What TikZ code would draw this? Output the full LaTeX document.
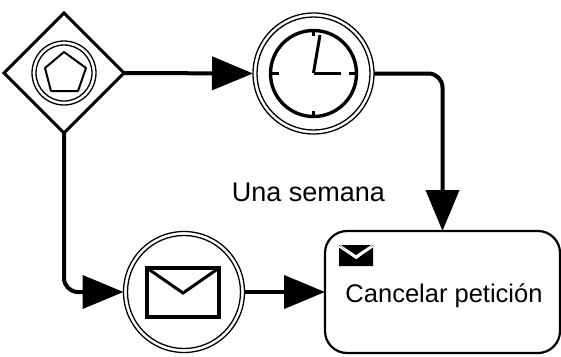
\documentclass[tikz,border=0pt]{standalone}
\usepackage{fontspec}
\setmainfont{Liberation Sans}
\usetikzlibrary{shapes.geometric,arrows.meta}
\tikzset{
  x=1pt,y=-1pt,
  flow/.style={line width=4pt,rounded corners=14pt,-{Triangle[length=41pt,width=33pt,sep=0pt]}},
  gatebox/.style={diamond,draw,line width=3pt,minimum width=120pt,minimum height=120pt,aspect=1,inner sep=0pt,outer sep=0pt},
  eventring/.style={circle,draw,line width=1.3pt,minimum size=121pt,inner sep=0pt,outer sep=0pt},
  innerring/.style={circle,draw,line width=1.3pt,minimum size=#1,inner sep=0pt,outer sep=0pt},
  taskbox/.style={draw,line width=2.2pt,rounded corners=22pt,minimum width=235pt,minimum height=122pt,inner sep=0pt,outer sep=0pt,anchor=center},
  labeltext/.style={font=\fontsize{25.5}{30}\selectfont,inner sep=0pt},
  symbolline/.style={line width=2pt,line join=round},
  handline/.style={line width=3pt}
}
\begin{document}
\begin{tikzpicture}
\useasboundingbox (0,0) rectangle (561,356);
% nodes
\node[gatebox] (gw) at (64,73) {};
\node[innerring=64pt] at (64,73) {};
\node[innerring=56pt] at (64,73) {};
\node[eventring] (timer) at (313.5,73.5) {};
\node[innerring=113pt] at (313.5,73.5) {};
\node[eventring] (msg) at (184,292) {};
\node[innerring=113pt] at (184,292) {};
\node[taskbox] (task) at (442.5,292) {};
% pentagon
\draw[symbolline] (64,52) -- (86,68) -- (78,91) -- (51,91) -- (45,68) -- cycle;
% clock
\node[circle,draw,line width=3.4pt,minimum size=86pt,inner sep=0pt] (face) at (313.5,73.5) {};
\draw[handline] (313.5,73) -- (320,35);
\draw[handline] (313.5,73) -- (341,73);
\draw[handline] (313.5,29) -- (313.5,36);
\draw[handline] (313.5,111) -- (313.5,118);
\draw[handline] (270,73) -- (279,73);
\draw[handline] (349,73) -- (358,73);
% big envelope
\draw[line width=3.2pt,line join=miter] (147,268) rectangle (219,317);
\draw[line width=3pt] (147,268) -- (183,293) -- (219,268);
% small envelope
\fill (339,245) -- (357,259) -- (373,245) -- (373,266) -- (339,266) -- cycle;
\draw[line width=1.6pt,white] (339,246.5) -- (356,258) -- (373,246.5);
\fill (341,245) -- (371,245) -- (356,255) -- cycle;
% connectors
\draw[flow] (gw.east) -- (timer.west);
\draw[flow] (timer.east) -| (task.north);
\draw[flow] (gw.south) |- (msg.west);
\draw[flow] (msg.east) -- (task.west);
% labels
\node[labeltext,font=\fontsize{27}{32}\selectfont] (lab) at (308.5,192) {Una semana};
\node[labeltext] (tasktxt) at (444,296) {Cancelar petición};
\end{tikzpicture}
\end{document}
